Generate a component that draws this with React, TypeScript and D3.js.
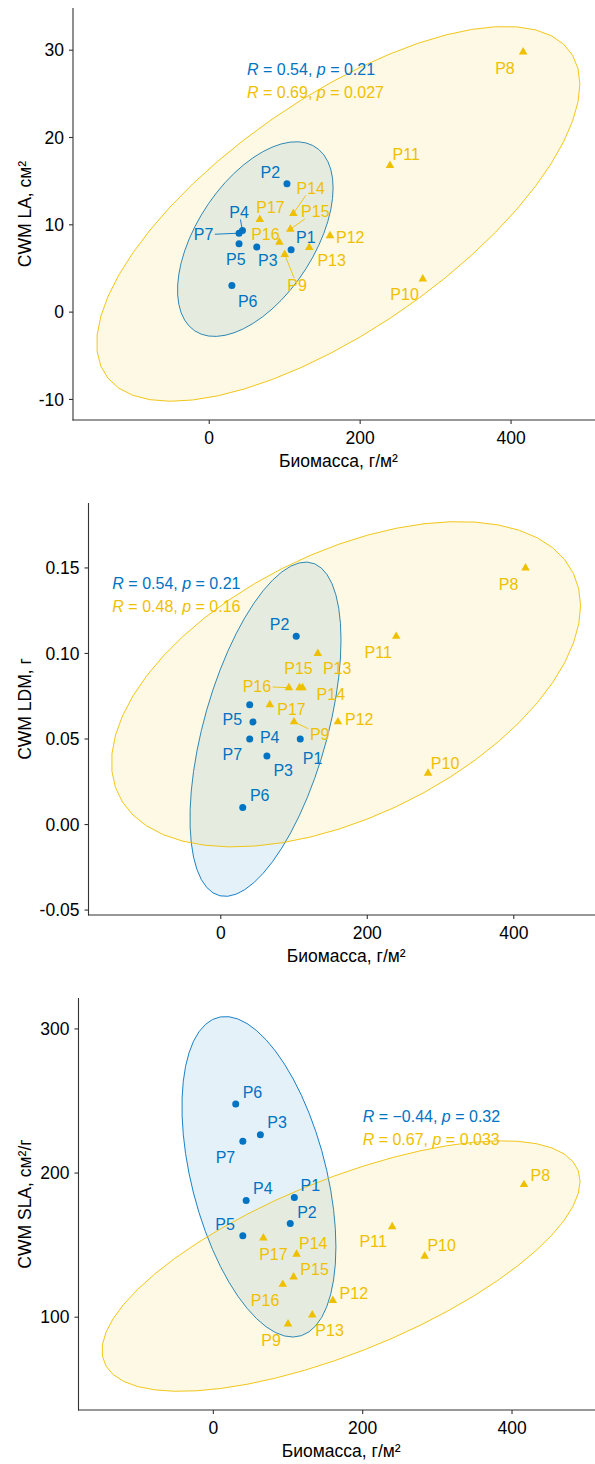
import React from 'react';
import * as d3 from 'd3';

// plots P1..P7 form the first group (blue), P8..P17 the second (yellow)
const plots = ['P1', 'P2', 'P3', 'P4', 'P5', 'P6', 'P7', 'P8', 'P9', 'P10', 'P11', 'P12', 'P13', 'P14', 'P15', 'P16', 'P17'];
const groupOf = [0, 0, 0, 0, 0, 0, 0, 1, 1, 1, 1, 1, 1, 1, 1, 1, 1];

const biomass = [108.5, 103, 63, 44, 39.5, 30, 39.5, 416, 100, 283, 239.5, 160, 132.5, 111.5, 107.5, 93, 67];
const cwmLA = [7.15, 14.7, 7.45, 9.35, 7.83, 3.04, 9.04, 29.8, 6.6, 3.8, 16.8, 8.75, 7.4, 11.3, 9.5, 8.0, 10.6];
const cwmLDM = [0.05, 0.11, 0.04, 0.06, 0.07, 0.01, 0.05, 0.15, 0.06, 0.03, 0.11, 0.06, 0.10, 0.08, 0.08, 0.08, 0.07];
const cwmSLA = [183, 165, 226.5, 181, 156.5, 248, 222, 192, 95.3, 142.3, 162.8, 111.6, 101.6, 143.7, 127.9, 122.8, 155];

const xTicks = [0, 200, 400];
const ticksLA = [-10, 0, 10, 20, 30];
const ticksLDM = [-0.05, 0, 0.05, 0.10, 0.15];
const ticksSLA = [100, 200, 300];

const corLA = [['0.54', '0.21'], ['0.69', '0.027']];
const corLDM = [['0.54', '0.21'], ['0.48', '0.16']];
const corSLA = [['\u22120.44', '0.32'], ['0.67', '0.033']];

const colors = ['#0073C2', '#EFC000'];
const FONT = '"Liberation Sans", Arial, sans-serif';

// ggrepel result, label offset in px from its point
const nudgeLA: Record<string, number[]> = {
  P1: [14.7, -12], P2: [-16.7, -11], P3: [11, 13.3], P4: [-3.4, -18.3], P5: [-3.3, 16], P6: [15.8, 15.7],
  P7: [-35.5, 1.5], P8: [-18.2, 16.1], P9: [12.3, 30.7], P10: [-18.2, 15], P11: [16.3, -11.4], P12: [20.3, 1.2],
  P13: [22.4, 12.7], P14: [17.4, -25.4], P15: [25, -17.6], P16: [-14, -7.7], P17: [10.7, -12],
};
const nudgeLDM: Record<string, number[]> = {
  P1: [12.3, 19], P2: [-16.7, -12.4], P3: [16.3, 14.7], P4: [16.7, 15.6], P5: [-17.4, 15], P6: [17, -12.3],
  P7: [-17.4, 15], P8: [-17, 16], P9: [25.7, 12.3], P10: [17, -10.3], P11: [-18, 16], P12: [21.3, -2.7],
  P13: [19.3, 15], P14: [28.4, 6.7], P15: [-1, -19], P16: [-32, -1.3], P17: [21.7, 5],
};
const nudgeSLA: Record<string, number[]> = {
  P1: [16, -12.3], P2: [16.7, -11.6], P3: [16.7, -12], P4: [16.7, -12], P5: [-17.7, -11.7], P6: [16.7, -11.4],
  P7: [-17.4, 16], P8: [16.3, -9.3], P9: [-17, 16], P10: [17, -11], P11: [-19, 15], P12: [21, -6.7],
  P13: [17.3, 15], P14: [16.6, -10.6], P15: [21, -8], P16: [-17.7, 16], P17: [10, 16.7],
};

const PLOT_TOP = 8;
const PLOT_BOTTOM = 420;
const PLOT_RIGHT = 604;

// same as ggplot2 stat_ellipse(type = "norm", level = 0.95)
function normEllipse(xs: number[], ys: number[], level = 0.95, segments = 51) {
  const n = xs.length;
  const mx = d3.mean(xs)!, my = d3.mean(ys)!;
  let sxx = 0, syy = 0, sxy = 0;
  xs.forEach((x, i) => {
    sxx += (x - mx) ** 2;
    syy += (ys[i] - my) ** 2;
    sxy += (x - mx) * (ys[i] - my);
  });
  sxx /= n - 1; syy /= n - 1; sxy /= n - 1;
  const a = Math.sqrt(sxx), b = sxy / a, c = Math.sqrt(syy - b * b);
  const dfd = n - 1;
  const qf = (dfd / 2) * (Math.pow(1 - level, -2 / dfd) - 1);
  const r = Math.sqrt(2 * qf);
  return d3.range(segments + 1).map(i => {
    const t = (i * 2 * Math.PI) / segments;
    const u = Math.cos(t), v = Math.sin(t);
    return [mx + r * u * a, my + r * (u * b + v * c)];
  });
}

function expand([lo, hi]: number[]) {
  const d = (hi - lo) * 0.05;
  return [lo - d, hi + d];
}

function labelWidth(s: string, fs: number) {
  return fs * (0.667 + 0.556 * (s.length - 1));
}

function Panel(props: any) {
  const { top, left, yValues, yTitle, yTicks, yFmt, nudge, segs, corX, corY, cor } = props;

  const groups = [0, 1].map(g => plots.map((_, i) => i).filter(i => groupOf[i] === g));
  const ells = groups.map(idx => normEllipse(idx.map(i => biomass[i]), idx.map(i => yValues[i])));
  const allPts = ells.flat().concat(biomass.map((x, i) => [x, yValues[i]]));

  const x = d3.scaleLinear().domain(expand(d3.extent(allPts, p => p[0]) as number[])).range([left, PLOT_RIGHT]);
  const y = d3.scaleLinear().domain(expand(d3.extent(allPts, p => p[1]) as number[])).range([PLOT_BOTTOM, PLOT_TOP]);

  const line = d3.line<number[]>().x(p => x(p[0])).y(p => y(p[1]));
  const tri = d3.symbol(d3.symbolTriangle, 32)();
  const fs = 16;

  return (
    <g transform={`translate(0,${top})`} fontFamily={FONT}>
      {/* ellipses */}
      {ells.map((e, g) => (
        <path key={g} d={line(e)! + 'Z'} fill={colors[g]} fillOpacity={0.1} stroke={colors[g]} strokeWidth={0.9} />
      ))}

      {/* points */}
      {plots.map((p, i) => groupOf[i] === 0
        ? <circle key={p} cx={x(biomass[i])} cy={y(yValues[i])} r={3.5} fill={colors[0]} />
        : <path key={p} d={tri!} transform={`translate(${x(biomass[i])},${y(yValues[i])})`} fill={colors[1]} />
      )}

      {/* correlation text */}
      {cor.map((c: string[], g: number) => (
        <text key={g} x={x(corX)} y={y(corY) + g * 23.4} dy="0.35em" fontSize={fs} fill={colors[g]}>
          <tspan fontStyle="italic">R</tspan> = {c[0]}, <tspan fontStyle="italic">p</tspan> = {c[1]}
        </text>
      ))}

      {/* repel labels */}
      {plots.map((p, i) => {
        const px = x(biomass[i]), py = y(yValues[i]);
        const lx = px + nudge[p][0], ly = py + nudge[p][1];
        let seg = null;
        if (segs.includes(p)) {
          const w = labelWidth(p, fs) / 2 + 1.5, h = fs * 0.36 + 1.5;
          const dx = px - lx, dy = py - ly;
          const t = Math.min(Math.abs(dx) > 0 ? w / Math.abs(dx) : 1e9, Math.abs(dy) > 0 ? h / Math.abs(dy) : 1e9);
          seg = <line x1={px} y1={py} x2={lx + dx * t} y2={ly + dy * t} stroke={colors[groupOf[i]]} strokeWidth={0.9} />;
        }
        return (
          <g key={p}>
            {seg}
            <text x={lx} y={ly} dy="0.35em" textAnchor="middle" fontSize={fs} fill={colors[groupOf[i]]}>{p}</text>
          </g>
        );
      })}

      {/* axes */}
      <g stroke="#333" strokeWidth={1.1}>
        <line x1={left} x2={left} y1={PLOT_TOP} y2={PLOT_BOTTOM + 0.5} />
        <line x1={left - 0.5} x2={PLOT_RIGHT} y1={PLOT_BOTTOM} y2={PLOT_BOTTOM} />
        {xTicks.map(t => <line key={t} x1={x(t)} x2={x(t)} y1={PLOT_BOTTOM} y2={PLOT_BOTTOM + 4} />)}
        {yTicks.map((t: number) => <line key={t} x1={left - 4} x2={left} y1={y(t)} y2={y(t)} />)}
      </g>
      {xTicks.map(t => (
        <text key={t} x={x(t)} y={PLOT_BOTTOM + 18} dy="0.35em" textAnchor="middle" fontSize={17.5} fill="#000">{t}</text>
      ))}
      {yTicks.map((t: number) => (
        <text key={t} x={left - 9} y={y(t)} dy="0.35em" textAnchor="end" fontSize={17.5} fill="#000">
          {yFmt(t).replace('\u2212', '-')}
        </text>
      ))}
      <text x={(left + PLOT_RIGHT) / 2} y={PLOT_BOTTOM + 40.5} dy="0.35em" textAnchor="middle" fontSize={17.5} fill="#000">
        Биомасса, г/м²
      </text>
      <text transform={`translate(25,${(PLOT_TOP + PLOT_BOTTOM) / 2}) rotate(-90)`} dy="0.35em" textAnchor="middle" fontSize={17.5} fill="#000">
        {yTitle}
      </text>
    </g>
  );
}

export default function App() {
  return (
    <svg width={595} height={1464} style={{ position: 'absolute', left: 0, top: 0, background: '#fff' }}>
      <rect width={595} height={1464} fill="#fff" />
      <Panel top={0} left={73} yValues={cwmLA} yTitle="CWM LA, см²" yTicks={ticksLA} yFmt={d3.format('d')}
        nudge={nudgeLA} segs={['P4', 'P7', 'P9', 'P14', 'P15']} corX={50} corY={27.8} cor={corLA} />
      <Panel top={495} left={88.5} yValues={cwmLDM} yTitle="CWM LDM, г" yTicks={ticksLDM} yFmt={d3.format('.2f')}
        nudge={nudgeLDM} segs={['P9', 'P16']} corX={-148} corY={0.141} cor={corLDM} />
      <Panel top={990} left={78.5} yValues={cwmSLA} yTitle="CWM SLA, см²/г" yTicks={ticksSLA} yFmt={d3.format('d')}
        nudge={nudgeSLA} segs={[]} corX={200} corY={239.6} cor={corSLA} />
    </svg>
  );
}
